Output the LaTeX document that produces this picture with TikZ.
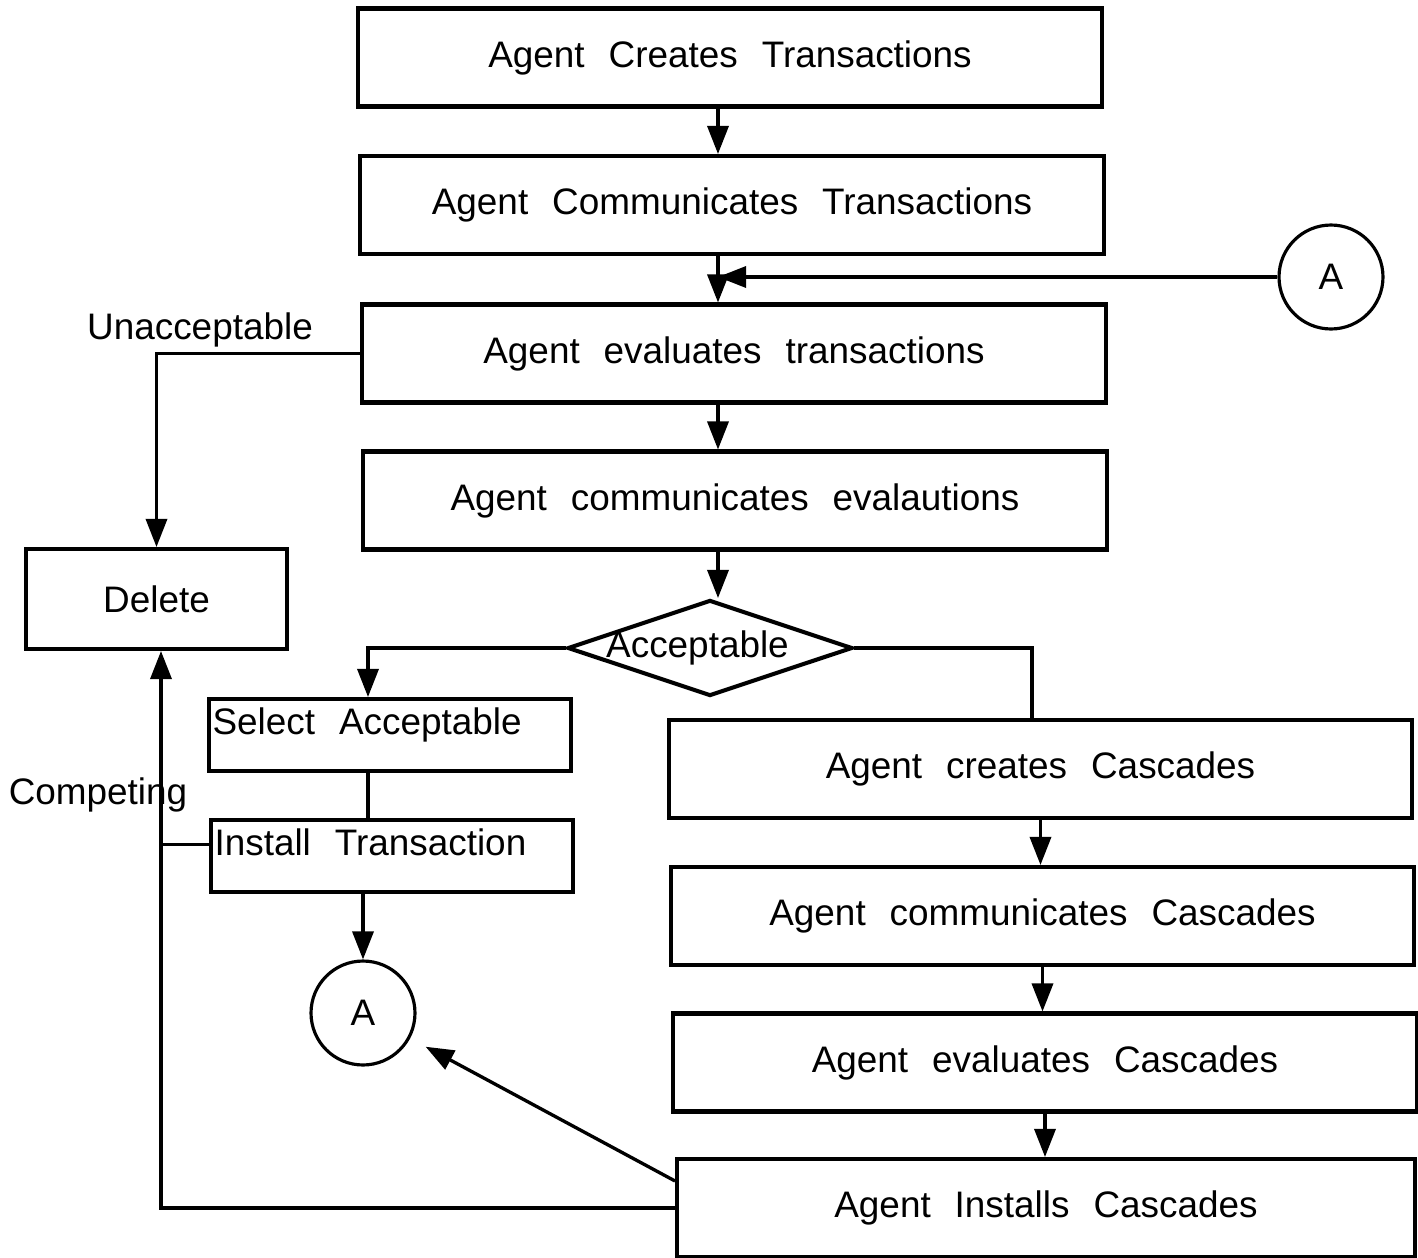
\documentclass[tikz,border=0pt]{standalone}
\usepackage{fontspec}
\setmainfont{Liberation Sans}
\usetikzlibrary{shapes.geometric,arrows.meta}
\newcommand{\flowfont}{\fontsize{21}{24}\selectfont\spaceskip=0.65em\relax}

\begin{document}
\begin{tikzpicture}[x=0.02cm, y=-0.02cm, font=\flowfont,
  box/.style={draw, rectangle, line width=2.3pt, minimum width=14.88cm, minimum height=1.96cm},
  sub/.style={draw, rectangle, line width=2.3pt, anchor=north west, text width=7.1cm, inner xsep=2pt, inner ysep=1pt, text height=19pt, text depth=20pt, align=left, execute at begin node={\spaceskip=0.65em\relax}},
  dec/.style={draw, diamond, aspect=3, line width=2.3pt, inner sep=0pt, minimum width=5.7cm, minimum height=1.92cm},
  con/.style={draw, circle, line width=1.8pt, minimum size=2.08cm, inner sep=0pt},
  n/.style={-{Triangle[length=16pt, width=12pt]}, line width=1.9pt},
  l/.style={line width=1.9pt}]
    \useasboundingbox (0,0) rectangle (1418,1258);
    % nodes
    \coordinate (spine) at (718,0);
    \coordinate (lcol) at (368,0);
    \coordinate (rcol) at (1032,0);
    \coordinate (back) at (161,0);
    \node[box] (cre) at (730,57.5) {Agent Creates Transactions};
    \node[box] (comm) at (732,205) {Agent Communicates Transactions};
    \node[box] (eva) at (734,353.5) {Agent evaluates transactions};
    \node[box] (cev) at (735,500.5) {Agent communicates evalautions};
    \node[dec] (acc) at (710,648) {\hspace*{-0.5cm}Acceptable};
    \node[box, minimum width=5.22cm, minimum height=2cm] (del) at (156.5,599) {Delete};
    \node[sub] (sel) at (207,697) {Select Acceptable};
    \node[sub] (ins) at (209,818) {Install Transaction};
    \node[con] (aL) at (363,1013) {A};
    \node[con] (aR) at (1331,277) {A};
    \node[box] (cc) at (1040.5,769) {Agent creates Cascades};
    \node[box] (cm) at (1042.5,916) {Agent communicates Cascades};
    \node[box] (cv) at (1045,1062.5) {Agent evaluates Cascades};
    \node[box, minimum width=14.76cm] (ci) at (1046,1208) {Agent Installs Cascades};
    \node (unacc) at (200,330) {Unacceptable};
    \node (comp) at (98,795) {Competing};
    % edges
    \draw[n] (cre.south -| spine) -- (comm.north -| spine);
    \draw[n] (comm.south -| spine) -- (eva.north -| spine);
    \draw[n] (aR.west) -- (aR.west -| spine);
    \draw[n] (eva.south -| spine) -- (cev.north -| spine);
    \draw[n] (cev.south -| spine) -- (acc.north -| spine);
    \draw[n] (eva.west) -| (del.north);
    \draw[n] (acc.west) -| (sel.north -| lcol);
    \draw[l] (acc.east) -| (cc.north -| rcol);
    \draw[l] (sel.south -| lcol) -- (ins.north -| lcol);
    \draw[n] (ins.south -| aL) -- (aL.north);
    \draw[n] (cc.south) -- (cc.south |- cm.north);
    \draw[n] (cm.south) -- (cm.south |- cv.north);
    \draw[n] (cv.south) -- (cv.south |- ci.north);
    \draw[n, shorten >=10pt] ([yshift=0.54cm]ci.west) -- (aL);
    \draw[n] (ci.west) -| (del.south -| back);
    \draw[l] ([yshift=0.23cm]ins.west) -- ([yshift=0.23cm]ins.west -| back);
\end{tikzpicture}
\end{document}
